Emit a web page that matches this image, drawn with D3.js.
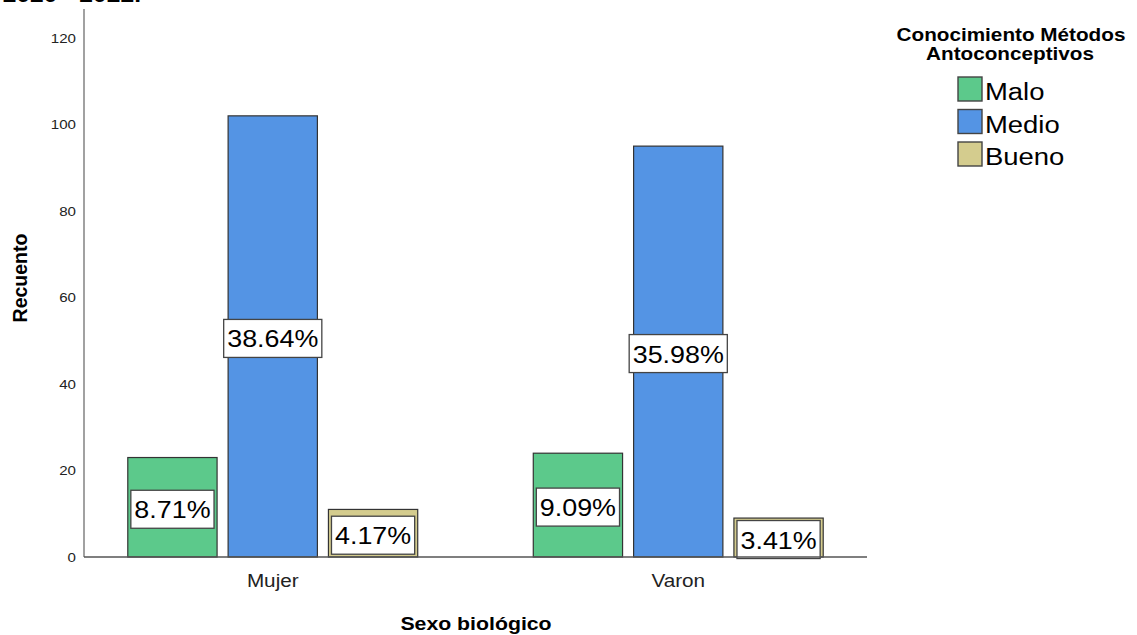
<!DOCTYPE html>
<html><head><meta charset="utf-8">
<script src="https://cdn.jsdelivr.net/npm/d3@7"></script>
<style>body{margin:0;background:#fff}svg{display:block}text{font-family:"Liberation Sans",Arial,sans-serif}</style>
</head><body>
<svg id="c" width="1137" height="635"></svg>
<script>
const sexes = ["Mujer", "Varon"];
const levels = ["Malo", "Medio", "Bueno"];
const counts = { Mujer: [23, 102, 11], Varon: [24, 95, 9] };
const percents = { Mujer: [8.71, 38.64, 4.17], Varon: [9.09, 35.98, 3.41] };
const yTicks = [0, 20, 40, 60, 80, 100, 120];
const colors = ["#5cc98b", "#5494e4", "#d4cc8e"];
const legendTitle = ["Conocimiento Métodos", "Antoconceptivos"];
const xTitle = "Sexo biológico";
const yTitle = "Recuento";
const topCut = "2020 - 2022.";

const SX = 1.12;
const svg = d3.select("#c");

function txt(parent, x, y, s, o) {
  o = o || {};
  const rot = o.rotate ? ` rotate(${o.rotate})` : "";
  return parent.append("text")
    .attr("transform", `translate(${x},${y})${rot} scale(${SX},1)`)
    .attr("text-anchor", o.anchor || "start")
    .attr("dominant-baseline", o.baseline || "auto")
    .attr("font-size", o.size || 14)
    .attr("font-weight", o.weight || "normal")
    .attr("font-family", o.family || null)
    .attr("fill", o.fill || "#000")
    .text(s);
}

// clipped document title at top (only the bottoms of the glyphs show)
txt(svg, 141, 1.5, topCut, { anchor: "end", size: 22, weight: "bold", family: "Liberation Serif, Times New Roman, serif" });

const x0 = d3.scaleBand().domain(sexes).range([84, 867]).paddingInner(0.285).paddingOuter(0.108);
const x1 = d3.scaleBand().domain(levels).range([0, x0.bandwidth()]).paddingInner(0.11).paddingOuter(0);
const y = d3.scaleLinear().domain([0, 120]).range([557, 38]);

// y axis
const yAxis = svg.append("g").attr("transform", "translate(84,0)")
  .call(d3.axisLeft(y).tickValues(yTicks).tickSize(0).tickPadding(8).tickFormat(d3.format("d")));
yAxis.select(".domain").remove();
yAxis.selectAll("text").remove();
yTicks.forEach(t => txt(svg, 76, y(t), String(t), { anchor: "end", baseline: "central", size: 13.5, fill: "#222" }));
svg.append("line").attr("x1", 84).attr("x2", 84).attr("y1", 9).attr("y2", y(0))
  .attr("stroke", "#8a8a8a").attr("stroke-width", 1.6);

// bars
const groups = svg.selectAll("g.grp").data(sexes).join("g").attr("class", "grp")
  .attr("transform", d => `translate(${x0(d)},0)`);
groups.selectAll("rect").data(s => levels.map((l, i) => ({ s, l, i, v: counts[s][i] })))
  .join("rect")
  .attr("x", d => x1(d.l)).attr("width", x1.bandwidth())
  .attr("y", d => y(d.v)).attr("height", d => y(0) - y(d.v))
  .attr("fill", d => colors[d.i]).attr("stroke", "#333").attr("stroke-width", 1.2);

// x axis line
svg.append("line").attr("x1", 84).attr("x2", 867).attr("y1", y(0)).attr("y2", y(0))
  .attr("stroke", "#555").attr("stroke-width", 1.3);

// value labels
groups.each(function (s) {
  const g = d3.select(this);
  levels.forEach((l, i) => {
    const v = counts[s][i];
    const cx = x1(l) + x1.bandwidth() / 2;
    const cy = (y(v) + y(0)) / 2 + 2.5;
    const label = percents[s][i].toFixed(2) + "%";
    const t = txt(g, cx, cy, label, { anchor: "middle", baseline: "central", size: 24 });
    const w = t.node().getComputedTextLength() * SX + 7;
    g.insert("rect", () => t.node())
      .attr("x", cx - w / 2).attr("y", cy - 19.5).attr("width", w).attr("height", 38)
      .attr("fill", "#fff").attr("stroke", "#444").attr("stroke-width", 1.3);
  });
});

// category labels
sexes.forEach(s => txt(svg, x0(s) + x0.bandwidth() / 2, 587, s, { anchor: "middle", size: 18.5, fill: "#222" }));

// axis titles
txt(svg, 476, 630, xTitle, { anchor: "middle", size: 19, weight: "bold" });
svg.append("text").attr("transform", "translate(27,278) rotate(-90)")
  .attr("text-anchor", "middle").attr("font-size", 19.5).attr("font-weight", "bold").text(yTitle);

// legend
txt(svg, 1011, 41, legendTitle[0], { anchor: "middle", size: 18.5, weight: "bold" });
txt(svg, 1010, 60, legendTitle[1], { anchor: "middle", size: 18.5, weight: "bold" });
levels.forEach((l, i) => {
  const top = 77 + i * 32.5;
  svg.append("rect").attr("x", 958).attr("y", top).attr("width", 24).attr("height", 24)
    .attr("fill", colors[i]).attr("stroke", "#444").attr("stroke-width", 1.4);
  txt(svg, 985, top + 23, l, { size: 24.5 });
});
</script>
</body></html>
